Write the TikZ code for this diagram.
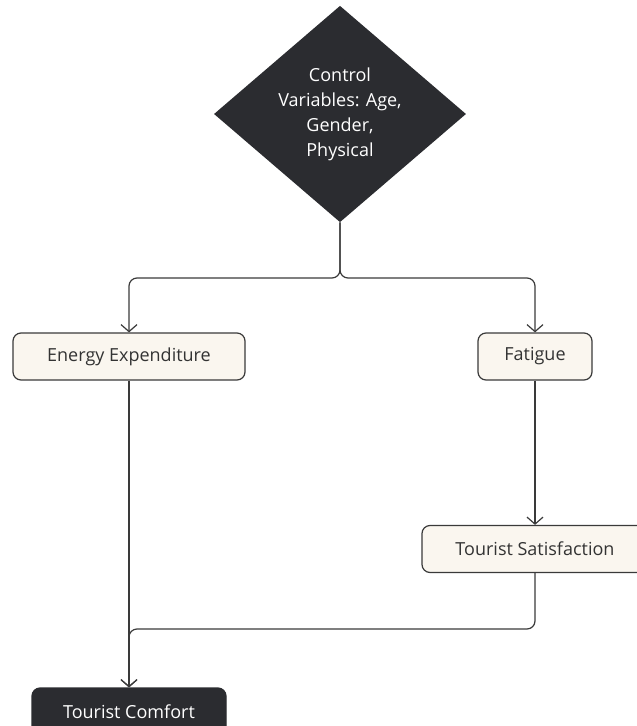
\documentclass[tikz,border=0pt]{standalone}
\usepackage{fontspec}
\setmainfont{Open Sans}
\usetikzlibrary{shapes.geometric,arrows.meta,positioning}

\definecolor{inkdark}{HTML}{2B2C30}
\definecolor{linegray}{HTML}{3A3A3A}
\definecolor{cream}{HTML}{FAF6EF}

\begin{document}
\begin{tikzpicture}[x=1pt, y=-1pt, font=\fontsize{18}{25}\selectfont,
  >={Straight Barb[length=7pt,width=16pt]},
  block/.style={rectangle, rounded corners=8pt, draw=linegray, line width=1.2pt,
                fill=cream, text=black!80, minimum height=47pt, inner sep=0pt},
  darkblock/.style={block, fill=inkdark, draw=inkdark, text=white},
  decision/.style={diamond, fill=inkdark, text=white, align=center,
                   minimum width=252pt, minimum height=208pt, inner sep=0pt},
  link/.style={->, draw=linegray, line width=1.2pt, rounded corners=8pt}]
  \useasboundingbox (0,0) rectangle (637,726);
  \node[decision] (ctrl) at (340,114) {Control\\Variables: Age,\\Gender,\\Physical};
  \node[block, minimum width=232pt] (energy) at (129,356.5) {Energy Expenditure};
  \node[block, minimum width=114pt] (fatigue) at (535,356.5) {Fatigue};
  \node[block, minimum width=226pt] (satis) at (535,549) {Tourist Satisfaction};
  \node[darkblock, minimum width=194pt] (comfort) at (129,711.5) {Tourist Comfort};
  \coordinate (split) at (340,278);
  \coordinate (merge) at (129,629);
  \draw[link] (ctrl.south) -- (split) -- (split -| energy.north) -- (energy.north);
  \draw[link] (ctrl.south) -- (split) -- (split -| fatigue.north) -- (fatigue.north);
  \draw[link] (energy.south) -- (comfort.north);
  \draw[link] (fatigue.south) -- (satis.north);
  \draw[link] (satis.south) -- (satis.south |- merge) -- (merge) -- (comfort.north);
\end{tikzpicture}
\end{document}
